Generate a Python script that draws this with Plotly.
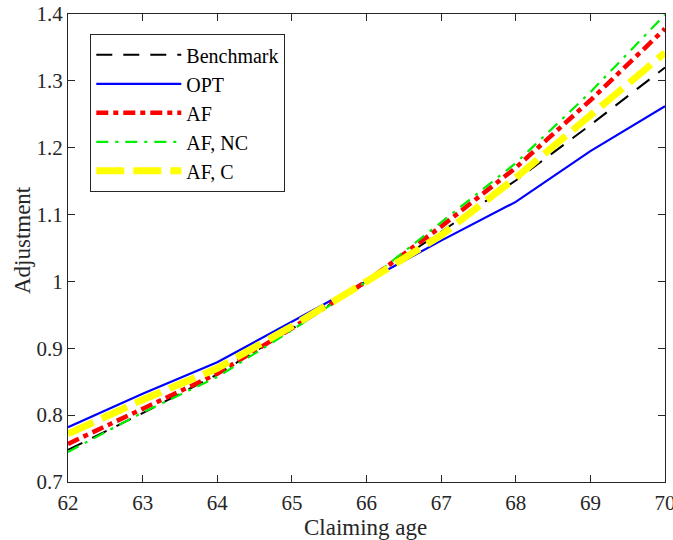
import plotly.graph_objects as go

ages = [62, 63, 64, 65, 66, 67, 68, 69, 70]
benchmark = [0.748, 0.803, 0.861, 0.929, 1.0, 1.074, 1.151, 1.234, 1.320]
opt = [0.782, 0.832, 0.879, 0.940, 1.0, 1.061, 1.119, 1.195, 1.262]
af = [0.757, 0.810, 0.862, 0.930, 1.0, 1.082, 1.170, 1.271, 1.378]
af_nc = [0.745, 0.804, 0.857, 0.927, 1.0, 1.088, 1.177, 1.283, 1.399]
af_c = [0.772, 0.823, 0.870, 0.933, 1.0, 1.069, 1.155, 1.249, 1.342]

series = [
    ("Benchmark", benchmark, "black", 2, "16px,11px"),
    ("OPT", opt, "#0000ff", 2.2, "solid"),
    ("AF", af, "#ff0000", 4.5, "12px,5px,5px,5px"),
    ("AF, NC", af_nc, "#00ee00", 2.2, "12px,7px,3px,7px"),
    ("AF, C", af_c, "#ffff00", 7, "28px,9px"),
]

fig = go.Figure()
for name, vals, color, w, dash in series:
    fig.add_trace(go.Scatter(x=ages, y=vals, mode="lines", name=name,
                             line=dict(color=color, width=w, dash=dash)))

font = "Liberation Serif, Times New Roman, serif"
axis_common = dict(showline=True, linecolor="#262626", linewidth=1.2, mirror="allticks",
                   ticks="inside", ticklen=7, tickcolor="#262626", showgrid=False,
                   zeroline=False, automargin=False, ticklabeloverflow="allow",
                   tickfont=dict(family=font, size=21, color="#262626"))
fig.update_layout(
    width=673, height=540,
    margin=dict(l=68, r=8, t=14, b=58),
    plot_bgcolor="white", paper_bgcolor="white",
    font=dict(family=font, size=21, color="#262626"),
    xaxis=dict(range=[62, 70], dtick=1, ticklabelstandoff=2, **axis_common),
    yaxis=dict(range=[0.7, 1.4], dtick=0.1, tickformat="~g", **axis_common),
    legend=dict(x=0.037, y=0.957, xanchor="left", yanchor="top",
                bgcolor="white", bordercolor="#262626", borderwidth=1.2,
                font=dict(family=font, size=20, color="black"),
                tracegroupgap=0, itemwidth=85),
    showlegend=True,
    annotations=[
        dict(text="Claiming age", xref="paper", yref="paper", x=0.499, y=-0.097,
             xanchor="center", yanchor="middle", showarrow=False,
             font=dict(family=font, size=23, color="#262626")),
        dict(text="Adjustment", xref="paper", yref="paper", x=-0.077, y=0.517,
             xanchor="center", yanchor="middle", showarrow=False, textangle=-90,
             font=dict(family=font, size=23, color="#262626")),
    ],
)
fig.write_html("out.html", config={"displayModeBar": False},
               post_script="document.body.style.margin='0';")
